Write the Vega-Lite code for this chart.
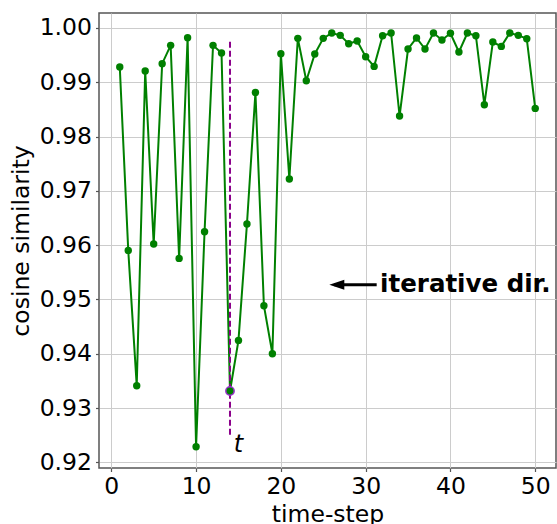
{
  "$schema": "https://vega.github.io/schema/vega-lite/v6.json",
  "autosize": {"type": "none"},
  "width": 457,
  "height": 455,
  "padding": {"left": 99, "top": 13, "right": 1, "bottom": 56},
  "background": "white",
  "config": {
    "font": "DejaVu Sans",
    "view": {"stroke": "#555555", "strokeWidth": 1.5},
    "axis": {
      "labelFont": "DejaVu Sans",
      "titleFont": "DejaVu Sans",
      "labelFontSize": 23.5,
      "titleFontSize": 23.5,
      "titleFontWeight": "normal",
      "labelColor": "black",
      "titleColor": "black",
      "domain": false,
      "tickColor": "#555555",
      "tickSize": 3.5,
      "tickWidth": 1.2,
      "gridColor": "#cccccc",
      "gridWidth": 1
    }
  },
  "datasets": {
    "series": [
      {"t": 1, "sim": 0.99282}, {"t": 2, "sim": 0.95904}, {"t": 3, "sim": 0.93413},
      {"t": 4, "sim": 0.99208}, {"t": 5, "sim": 0.96022}, {"t": 6, "sim": 0.99343},
      {"t": 7, "sim": 0.9968}, {"t": 8, "sim": 0.95757}, {"t": 9, "sim": 0.99821},
      {"t": 10, "sim": 0.92289}, {"t": 11, "sim": 0.96249}, {"t": 12, "sim": 0.9968},
      {"t": 13, "sim": 0.9954}, {"t": 14, "sim": 0.93315}, {"t": 15, "sim": 0.94247},
      {"t": 16, "sim": 0.9639}, {"t": 17, "sim": 0.98811}, {"t": 18, "sim": 0.94886},
      {"t": 19, "sim": 0.94002}, {"t": 20, "sim": 0.99527}, {"t": 21, "sim": 0.97219},
      {"t": 22, "sim": 0.99809}, {"t": 23, "sim": 0.99029}, {"t": 24, "sim": 0.99521},
      {"t": 25, "sim": 0.99809}, {"t": 26, "sim": 0.99908}, {"t": 27, "sim": 0.99864},
      {"t": 28, "sim": 0.99711}, {"t": 29, "sim": 0.9976}, {"t": 30, "sim": 0.99471},
      {"t": 31, "sim": 0.99293}, {"t": 32, "sim": 0.99858}, {"t": 33, "sim": 0.99908},
      {"t": 34, "sim": 0.98379}, {"t": 35, "sim": 0.99613}, {"t": 36, "sim": 0.99816},
      {"t": 37, "sim": 0.99613}, {"t": 38, "sim": 0.99908}, {"t": 39, "sim": 0.99779},
      {"t": 40, "sim": 0.99902}, {"t": 41, "sim": 0.99558}, {"t": 42, "sim": 0.99908},
      {"t": 43, "sim": 0.99858}, {"t": 44, "sim": 0.98587}, {"t": 45, "sim": 0.99742},
      {"t": 46, "sim": 0.99661}, {"t": 47, "sim": 0.99908}, {"t": 48, "sim": 0.99864},
      {"t": 49, "sim": 0.99803}, {"t": 50, "sim": 0.98519}
    ],
    "marker": [{"t": 14, "sim": 0.93315}],
    "vline": [{"t": 14, "lo": 0.9251, "hi": 0.99797}],
    "tlabel": [{"t": 14.45, "sim": 0.9232, "label": "t"}],
    "arrow": [{"from": 26.3, "to": 31.3, "sim": 0.9527}],
    "arrowhead": [{"t": 26.6, "sim": 0.9527}],
    "note": [{"t": 31.7, "sim": 0.9527, "label": "iterative dir."}]
  },
  "layer": [
    {
      "data": {"name": "series"},
      "mark": {"type": "line", "color": "#008000", "strokeWidth": 2},
      "encoding": {
        "x": {
          "field": "t", "type": "quantitative",
          "scale": {"domain": [-1.45, 52.45], "nice": false, "zero": false},
          "axis": {"values": [0, 10, 20, 30, 40, 50], "title": "time-step", "labelPadding": 3, "titlePadding": 4}
        },
        "y": {
          "field": "sim", "type": "quantitative",
          "scale": {"domain": [0.91897, 1.00276], "nice": false, "zero": false},
          "axis": {"values": [0.92, 0.93, 0.94, 0.95, 0.96, 0.97, 0.98, 0.99, 1.0], "format": ".2f", "title": "cosine similarity", "labelPadding": 4, "titlePadding": 6}
        }
      }
    },
    {
      "data": {"name": "series"},
      "mark": {"type": "point", "filled": true, "color": "#008000", "size": 55, "opacity": 1},
      "encoding": {
        "x": {"field": "t", "type": "quantitative"},
        "y": {"field": "sim", "type": "quantitative"}
      }
    },
    {
      "data": {"name": "vline"},
      "mark": {"type": "rule", "color": "#8b008b", "strokeWidth": 2, "strokeDash": [6, 3]},
      "encoding": {
        "x": {"field": "t", "type": "quantitative"},
        "y": {"field": "lo", "type": "quantitative"},
        "y2": {"field": "hi"}
      }
    },
    {
      "data": {"name": "marker"},
      "mark": {"type": "point", "filled": true, "fill": "#008000", "stroke": "#9932cc", "strokeWidth": 1.5, "size": 70, "opacity": 1},
      "encoding": {
        "x": {"field": "t", "type": "quantitative"},
        "y": {"field": "sim", "type": "quantitative"}
      }
    },
    {
      "data": {"name": "tlabel"},
      "mark": {"type": "text", "font": "DejaVu Sans", "fontSize": 24, "fontStyle": "italic", "align": "left", "baseline": "middle", "color": "black"},
      "encoding": {
        "x": {"field": "t", "type": "quantitative"},
        "y": {"field": "sim", "type": "quantitative"},
        "text": {"field": "label"}
      }
    },
    {
      "data": {"name": "arrow"},
      "mark": {"type": "rule", "color": "black", "strokeWidth": 3},
      "encoding": {
        "x": {"field": "from", "type": "quantitative"},
        "x2": {"field": "to"},
        "y": {"field": "sim", "type": "quantitative"}
      }
    },
    {
      "data": {"name": "arrowhead"},
      "mark": {"type": "point", "filled": true, "color": "black", "opacity": 1, "size": 225, "shape": "M -1 0 L 1 -0.67 L 1 0.67 Z"},
      "encoding": {
        "x": {"field": "t", "type": "quantitative"},
        "y": {"field": "sim", "type": "quantitative"}
      }
    },
    {
      "data": {"name": "note"},
      "mark": {"type": "text", "font": "DejaVu Sans", "fontSize": 24.5, "fontWeight": "bold", "align": "left", "baseline": "middle", "color": "black"},
      "encoding": {
        "x": {"field": "t", "type": "quantitative"},
        "y": {"field": "sim", "type": "quantitative"},
        "text": {"field": "label"}
      }
    }
  ]
}
